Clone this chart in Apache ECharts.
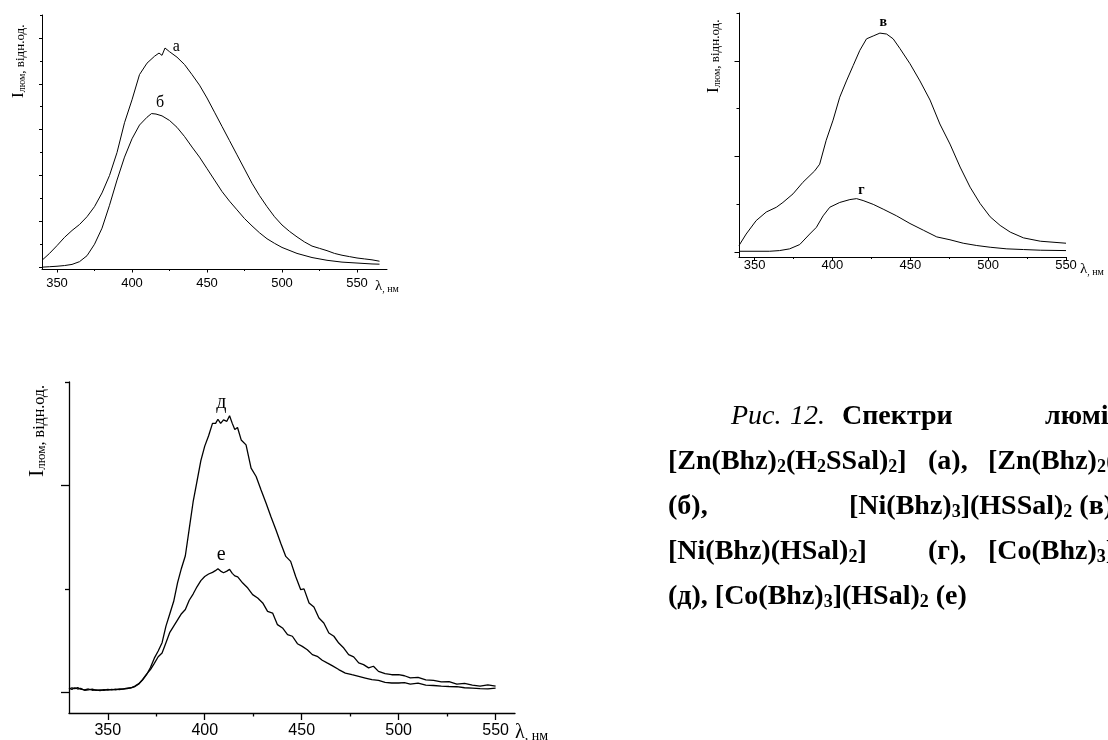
<!DOCTYPE html>
<html>
<head>
<meta charset="utf-8">
<script src="https://cdn.jsdelivr.net/npm/echarts@6.0.0/dist/echarts.min.js"></script>
<style>
  html, body { margin: 0; padding: 0; background: #fff; }
  #chart { width: 1108px; height: 740px; }
</style>
</head>
<body>
<div id="chart"></div>
<script>
// --- spectre (а) et (б) : [Zn(Bhz)2(H2SSal)2], [Zn(Bhz)2(HSal)2]
const waveA = [340,345,350,355,360,365,370,375,380,385,390,395,400,405,410,415,418,420,422,425,430,435,440,445,450,455,460,465,470,475,480,485,490,495,500,505,510,515,520,525,530,535,540,545,550,555,560,565];
const intensA = [0.15,0.30,0.47,0.65,0.80,0.93,1.10,1.32,1.62,2.00,2.50,3.15,3.65,4.20,4.45,4.60,4.67,4.62,4.78,4.70,4.58,4.42,4.20,3.97,3.69,3.38,3.07,2.76,2.45,2.14,1.83,1.56,1.32,1.10,0.92,0.78,0.66,0.55,0.46,0.41,0.36,0.30,0.26,0.23,0.20,0.18,0.16,0.13];
const waveB = [340,345,350,355,360,365,370,375,380,385,390,395,400,405,410,413,416,420,425,430,435,440,445,450,455,460,465,470,475,480,485,490,495,500,510,520,530,540,550,560,565];
const intensB = [0.0,0.01,0.02,0.035,0.06,0.12,0.25,0.5,0.85,1.35,1.9,2.4,2.8,3.1,3.27,3.35,3.34,3.3,3.2,3.05,2.85,2.62,2.4,2.15,1.9,1.65,1.44,1.25,1.06,0.9,0.75,0.62,0.52,0.43,0.3,0.21,0.15,0.11,0.09,0.07,0.065];

// --- spectre (в) et (г) : [Ni(Bhz)3](HSSal)2, [Ni(Bhz)(HSal)2]
const waveV = [340,344.6,351,357.5,364,368.2,374.7,381,388.6,391.8,396,400.4,404.7,409,413.3,417.6,421.9,426.2,430.5,434.8,439,443.3,449.8,456.2,462.7,469,475.5,482,488.4,494.8,501.3,507.7,514.2,522.7,533.5,550];
const intensV = [0.07,0.19,0.33,0.42,0.47,0.52,0.61,0.73,0.85,0.92,1.17,1.38,1.62,1.79,1.95,2.11,2.23,2.26,2.29,2.28,2.23,2.13,1.97,1.79,1.59,1.34,1.13,0.89,0.68,0.51,0.37,0.28,0.21,0.15,0.115,0.094];
const waveG = [340,359.7,366,372.5,379,385.4,389.7,394,398.3,404.7,411.2,415.5,419.7,426.2,432.6,441.2,449.8,458.4,467,475.5,484,492.7,501.3,512,522.7,533.5,550];
const intensG = [0.01,0.01,0.017,0.035,0.08,0.19,0.26,0.38,0.47,0.52,0.55,0.56,0.54,0.50,0.45,0.38,0.30,0.23,0.16,0.13,0.094,0.07,0.052,0.035,0.028,0.021,0.017];

// --- spectre (д) et (е) : [Co(Bhz)3](HSSal)2, [Co(Bhz)3](HSal)2
const waveD = [330,331.5,333,334.5,336,338,340,342,344,346,348,350,352,354,356,358,360,362,364,366,368,370,372,374,376,378,380,382,384,386,388,390,392,394,396,398,400,402,404,405.6,406.8,408.2,409.7,411.4,412.8,414.2,415.5,416.9,418.8,421.3,423.9,426.5,429,431.6,434.1,436.7,439.2,441.8,444.3,446.9,449.5,451.2,453.8,456.3,458.9,461.4,464,466.6,469.1,471.7,474.2,476.8,479.4,481.9,484.5,487,489.6,493,496.4,500,503,506,510,514,518,522,526,530,534,538,542,546,550];
const intensD = [0.016,0.022,0.018,0.023,0.015,0.012,0.016,0.010,0.012,0.008,0.013,0.011,0.014,0.012,0.016,0.015,0.018,0.021,0.028,0.040,0.060,0.085,0.120,0.165,0.200,0.240,0.320,0.380,0.440,0.530,0.600,0.660,0.790,0.920,1.020,1.120,1.190,1.240,1.300,1.300,1.320,1.300,1.317,1.310,1.337,1.300,1.270,1.280,1.220,1.196,1.084,1.043,0.979,0.915,0.850,0.786,0.721,0.657,0.633,0.560,0.496,0.500,0.432,0.412,0.359,0.335,0.287,0.271,0.238,0.214,0.182,0.171,0.142,0.134,0.118,0.126,0.101,0.090,0.085,0.085,0.080,0.070,0.072,0.060,0.058,0.050,0.052,0.040,0.043,0.035,0.030,0.036,0.030];
const waveE = [330,331.5,333,334.5,336,338,340,342,344,346,348,350,352,354,356,358,360,362,364,366,368,370,372,374,376,378,380,382,384,386,388,390,392,394,396,398,400,402,404,405.5,406.8,408.2,409.7,411.4,412.8,414.2,415.5,417,419.6,422.2,424.7,427.3,429.9,432.4,435,437.5,440.1,442.7,445.2,447.8,450.3,452.9,455.5,458,460.6,463.1,465.7,469.1,472.5,475.9,479.4,482.8,486.2,489.6,493,496.4,500,503,506,510,514,518,522,526,530,534,538,542,546,550];
const intensE = [0.020,0.014,0.022,0.016,0.019,0.010,0.012,0.015,0.009,0.012,0.010,0.014,0.012,0.015,0.013,0.017,0.020,0.022,0.030,0.042,0.062,0.088,0.110,0.140,0.172,0.190,0.240,0.290,0.320,0.350,0.380,0.400,0.445,0.475,0.510,0.540,0.560,0.572,0.580,0.588,0.597,0.586,0.578,0.586,0.594,0.575,0.563,0.558,0.528,0.504,0.472,0.456,0.432,0.391,0.383,0.327,0.311,0.279,0.271,0.235,0.222,0.206,0.182,0.174,0.155,0.142,0.129,0.110,0.093,0.085,0.077,0.069,0.061,0.058,0.048,0.045,0.045,0.047,0.040,0.044,0.035,0.033,0.030,0.028,0.027,0.022,0.020,0.018,0.017,0.020];

// ticks
const xMajor = [350, 400, 450, 500, 550];
const xMinor = [375, 425, 475, 525];
const yMajor1 = [0, 1, 2, 3, 4, 5];
const yMinor1 = [0.5, 1.5, 2.5, 3.5, 4.5, 5.5];
const yMajor2 = [0, 1, 2];
const yMinor2 = [0.5, 1.5, 2.5];
const yMajor3 = [0, 1];
const yMinor3 = [0.5, 1.5];

const SERIF = '"Liberation Serif","Times New Roman",serif';
const SANS = '"Liberation Sans",Arial,sans-serif';

const panels = [
  { grid: { left: 42, top: 15, width: 345, height: 254 }, x: [340, 570], y: [-0.04, 5.5],
    yMaj: yMajor1, yMin: yMinor1, tick: [3, 2, 3.5, 2], lab: 13, margin: 8, lw: 1 },
  { grid: { left: 739, top: 13, width: 327, height: 244 }, x: [340, 550], y: [-0.05, 2.5],
    yMaj: yMajor2, yMin: yMinor2, tick: [4.5, 2.5, 3.5, 2], lab: 13, margin: 2, lw: 1 },
  { grid: { left: 69, top: 382, width: 446, height: 331 }, x: [330, 560], y: [-0.1, 1.5],
    yMaj: yMajor3, yMin: yMinor3, tick: [8, 4, 7, 3.5], lab: 16, margin: 10, lw: 1.3 }
];

const zip = (xs, ys) => xs.map((x, i) => [x, ys[i]]);

const grids = [], xAxes = [], yAxes = [];
panels.forEach((p, i) => {
  grids.push(Object.assign({ outerBoundsMode: 'none', containLabel: false }, p.grid));
  const line = { color: '#000', width: p.lw };
  xAxes.push({
    type: 'value', gridIndex: i, min: p.x[0], max: p.x[1], position: 'bottom',
    axisLine: { show: true, onZero: false, lineStyle: line },
    axisTick: { show: true, length: p.tick[2], customValues: xMajor, lineStyle: line },
    axisLabel: { show: true, customValues: xMajor, margin: p.margin, color: '#000', fontSize: p.lab, fontFamily: SANS },
    splitLine: { show: false }
  }, {
    type: 'value', gridIndex: i, min: p.x[0], max: p.x[1], position: 'bottom',
    axisLine: { show: false, onZero: false },
    axisTick: { show: true, length: p.tick[3], customValues: xMinor, lineStyle: line },
    axisLabel: { show: false }, splitLine: { show: false }
  });
  yAxes.push({
    type: 'value', gridIndex: i, min: p.y[0], max: p.y[1], position: 'left',
    axisLine: { show: true, onZero: false, lineStyle: line },
    axisTick: { show: true, length: p.tick[0], customValues: p.yMaj, lineStyle: line },
    axisLabel: { show: false }, splitLine: { show: false }
  }, {
    type: 'value', gridIndex: i, min: p.y[0], max: p.y[1], position: 'left',
    axisLine: { show: false, onZero: false },
    axisTick: { show: true, length: p.tick[1], customValues: p.yMin, lineStyle: line },
    axisLabel: { show: false }, splitLine: { show: false }
  });
});

function curve(panel, xs, ys, tag, at, font) {
  return {
    type: 'line', xAxisIndex: panel * 2, yAxisIndex: panel * 2, data: zip(xs, ys),
    showSymbol: false, smooth: false, silent: true,
    lineStyle: { color: '#000', width: panels[panel].lw },
    markPoint: {
      symbol: 'circle', symbolSize: 0, silent: true,
      label: { show: true, position: 'inside', formatter: '{b}', color: '#000', fontFamily: SERIF,
        fontSize: font.size, fontWeight: font.weight || 'normal' },
      data: [{ name: tag, coord: at }]
    }
  };
}

const series = [
  curve(0, waveA, intensA, 'а', [429.5, 4.8], { size: 16 }),
  curve(0, waveB, intensB, 'б', [418.7, 3.58], { size: 16 }),
  curve(1, waveV, intensV, 'в', [432.6, 2.4], { size: 14, weight: 'bold' }),
  curve(1, waveG, intensG, 'г', [418.7, 0.65], { size: 14, weight: 'bold' }),
  curve(2, waveD, intensD, 'д', [408.5, 1.4], { size: 20 }),
  curve(2, waveE, intensE, 'е', [408.5, 0.665], { size: 20 })
];

// --- texte: baseline placee a B px au-dessus du bas de la boite
const B = 6;
const lh = (fs, b) => 2 * (b + 0.34 * fs);
function rich(defs) {
  const out = {};
  Object.keys(defs).forEach((k) => {
    const d = defs[k];
    out[k] = { fontSize: d.fs, fontFamily: SERIF, fontWeight: d.w || 'normal', fontStyle: d.st || 'normal',
      fill: '#000', verticalAlign: 'bottom', lineHeight: lh(d.fs, B - (d.drop || 0)) };
  });
  return out;
}
function textEl(x, base, text, r, rot) {
  return {
    type: 'text', silent: true,
    x: rot ? x + B : x, y: rot ? base : base + B, rotation: rot ? Math.PI / 2 : 0,
    style: { text, rich: r, align: 'left', verticalAlign: 'bottom', fill: '#000' }
  };
}

const yName = '{i|I}{s|люм}{t|, відн.од.}';
const xName = '{l|λ}{t|, нм}';
const cap = rich({ b: { fs: 28, w: 'bold' }, s: { fs: 18, w: 'bold', drop: 6 }, it: { fs: 28, st: 'italic' } });

const graphics = [
  textEl(21, 98, yName, rich({ i: { fs: 17 }, s: { fs: 10, drop: 2 }, t: { fs: 13 } }), true),
  textEl(716, 93, yName, rich({ i: { fs: 17 }, s: { fs: 10, drop: 2 }, t: { fs: 13 } }), true),
  textEl(42, 477, yName, rich({ i: { fs: 22 }, s: { fs: 13, drop: 3 }, t: { fs: 16 } }), true),
  textEl(375, 288, xName, rich({ l: { fs: 15 }, t: { fs: 10 } })),
  textEl(1080, 271, xName, rich({ l: { fs: 15 }, t: { fs: 10 } })),
  textEl(515, 737, xName, rich({ l: { fs: 20 }, t: { fs: 14 } })),

  textEl(731, 425, '{it|Рис.}', cap),
  textEl(790, 425, '{it|12.}', cap),
  textEl(842, 425, '{b|Спектри}', cap),
  textEl(1045, 425, '{b|люмінесценції}', cap),
  textEl(668, 470, '{b|[Zn(Bhz)}{s|2}{b|(H}{s|2}{b|SSal)}{s|2}{b|]}', cap),
  textEl(928, 470, '{b|(а),}', cap),
  textEl(988, 470, '{b|[Zn(Bhz)}{s|2}{b|(HSal)}{s|2}{b|]}', cap),
  textEl(668, 515, '{b|(б),}', cap),
  textEl(849, 515, '{b|[Ni(Bhz)}{s|3}{b|](HSSal)}{s|2}{b| (в),}', cap),
  textEl(668, 560, '{b|[Ni(Bhz)(HSal)}{s|2}{b|]}', cap),
  textEl(928, 560, '{b|(г),}', cap),
  textEl(988, 560, '{b|[Co(Bhz)}{s|3}{b|](HSSal)}{s|2}', cap),
  textEl(668, 605, '{b|(д), [Co(Bhz)}{s|3}{b|](HSal)}{s|2}{b| (е)}', cap)
];

const chart = echarts.init(document.getElementById('chart'), null, { renderer: 'canvas' });
chart.setOption({
  animation: false,
  backgroundColor: '#fff',
  grid: grids,
  xAxis: xAxes,
  yAxis: yAxes,
  series,
  graphic: graphics
});
</script>
</body>
</html>
